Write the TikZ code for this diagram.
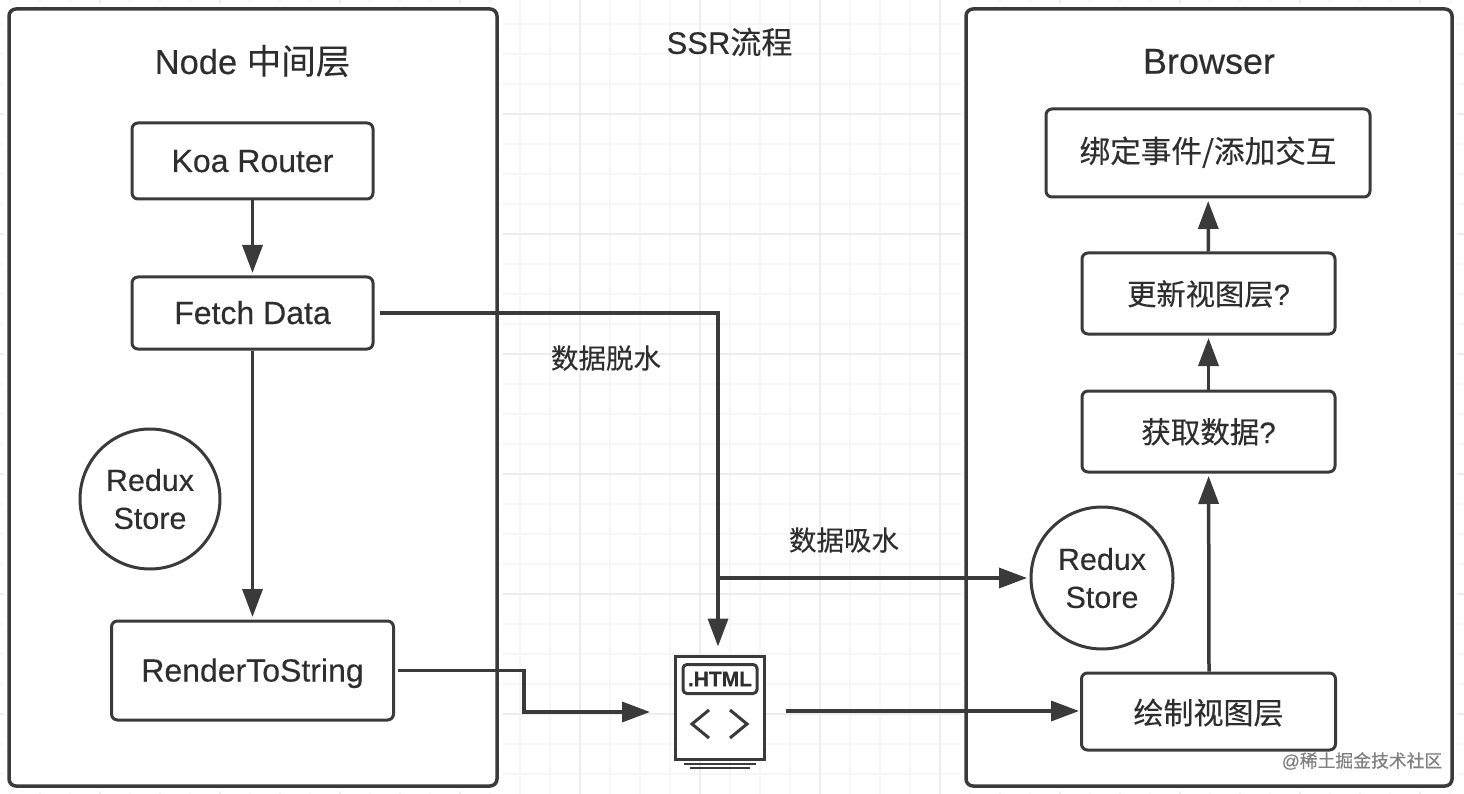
\documentclass[tikz,border=0pt]{standalone}
\usepackage{fontspec}
\usepackage{xcolor}
\usetikzlibrary{arrows.meta}
\setmainfont{Liberation Sans}[FakeBold=0.25]
\newfontfamily\cjk{Noto Sans CJK SC}[FakeBold=0.25]
\definecolor{inkgray}{HTML}{3A3A3A}
\definecolor{textgray}{HTML}{2E2E2E}
\tikzset{
    panelbox/.style={draw=inkgray, line width=3.5pt, rounded corners=7pt, fill=white, preaction={draw=white, line width=11pt}, minimum width=488pt, minimum height=777pt},
    flowbox/.style={draw=inkgray, line width=3pt, rounded corners=6pt, fill=white, text=textgray, inner sep=0pt, text height=22pt, text depth=0pt, font=\fontsize{32}{38}\selectfont},
    cjkbox/.style={flowbox, text height=23pt, text depth=0pt},
    storenode/.style={draw=inkgray, line width=3pt, circle, fill=white, text=textgray, align=center, inner sep=0pt, minimum size=140pt, font=\fontsize{30.5}{38}\selectfont},
    titlenode/.style={text=textgray, inner sep=0pt, font=\fontsize{34.5}{40}\selectfont},
    flowlabel/.style={text=textgray, inner sep=0pt, font=\fontsize{27.5}{32}\selectfont},
    flowline/.style={draw=inkgray, line width=3.5pt, -{Triangle[length=28pt, width=20pt]}, shorten >=2.5pt},
    iconline/.style={draw=inkgray, line width=3pt}
}
\begin{document}
\begin{tikzpicture}[x=1pt, y=-1pt, node distance=152pt]
    \useasboundingbox (0,0) rectangle (1464,794);
    \fill[white] (0,0) rectangle (1464,794);

    % Background grid
    \foreach \gx in {10,40,...,1450}
        \draw[black!3.5, line width=1.5pt] (\gx,0) -- (\gx,794);
    \foreach \gy in {24,54,...,774}
        \draw[black!3.5, line width=1.5pt] (0,\gy) -- (1464,\gy);
    \foreach \gx in {100,220,...,1420}
        \draw[black!7, line width=2pt] (\gx,0) -- (\gx,794);
    \foreach \gy in {114,234,...,714}
        \draw[black!7, line width=2pt] (0,\gy) -- (1464,\gy);

    % Panels
    \node[panelbox] (nodepanel) at (253,397.5) {};
    \node[panelbox, minimum width=486pt] (browserpanel) at (1209,397.5) {};
    \node[titlenode] (pagetitle) at (729.5,42) {\fontsize{31}{38}\selectfont SSR{\cjk 流程}};

    % Node side (left)
    \node[flowbox, minimum width=241pt, minimum height=76pt] (koa) at (252.5,161) {Koa Router};
    \node[flowbox, below of=koa, minimum width=241pt, minimum height=72pt] (fetch) {Fetch Data};
    \node[flowbox, below of=fetch, node distance=357.5pt, minimum width=282pt, minimum height=99pt] (render) {RenderToString};
    \node[storenode] (storeleft) at (150,499) {Redux\\Store};
    \node[titlenode] (nodetitle) at (252.5,61) {Node {\cjk 中间层}};

    % Browser side (right)
    \node[cjkbox, text depth=4pt, minimum width=324pt, minimum height=88pt, font=\fontsize{30.6}{38}\cjk] (bind) at (1208,153) {绑定事件/添加交互};
    \node[cjkbox, minimum width=253pt, minimum height=81pt, font=\fontsize{29.3}{38}\selectfont] (update) at (1208.5,293.5) {{\cjk 更新视图层}?};
    \node[cjkbox, below of=update, node distance=138pt, minimum width=253pt, minimum height=81pt, font=\fontsize{29.5}{38}\selectfont] (getdata) {{\cjk 获取数据}?};
    \node[cjkbox, text height=25pt, below of=getdata, node distance=280pt, minimum width=254pt, minimum height=77pt, font=\fontsize{30}{38}\cjk] (paint) {绘制视图层};
    \node[storenode, minimum size=142pt] (storeright) at (1102,578) {Redux\\Store};
    \node[titlenode] (browsertitle) at (1209,61.5) {\fontsize{36}{40}\selectfont Browser};

    % HTML icon
    \node[draw=inkgray, line width=3pt, fill=white, minimum width=89pt, minimum height=103pt] (html) at (719.5,707.5) {};
    \node[draw=inkgray, line width=3pt, rounded corners=4pt, text=textgray, inner sep=0pt, minimum width=74pt, minimum height=29pt, font=\fontsize{21}{24}\selectfont\bfseries] (htmltag) at (720,679) {.HTML};
    \draw[iconline] (709,710) -- (692,724) -- (709,738);
    \draw[iconline] (730,710) -- (747,724) -- (730,738);
    \draw[iconline, line width=2pt] (684,764) -- (756,764);
    \draw[iconline, line width=2.5pt] (690,768) -- (750,768);

    % Free ends beside the icon
    \coordinate (htmltop) at ([xshift=-1.5pt, yshift=5.5pt]html.north);
    \coordinate (htmlin) at ([xshift=-21pt, yshift=-4.5pt]html.west);
    \coordinate (htmlout) at ([xshift=20pt, yshift=-3.5pt]html.east);
    \coordinate (hydrate) at (htmltop |- storeright.west);

    % Connections
    \draw[flowline] (koa) -- (fetch);
    \draw[flowline] (fetch) -- (render);
    \draw[flowline, shorten <=5pt] (fetch.east) -| (htmltop);
    \draw[flowline, shorten <=3pt] (render.east) -| (524,712) -- (htmlin);
    \draw[flowline] (hydrate) -- (storeright.west);
    \draw[flowline, shorten >=1pt] (htmlout) -- (htmlout -| paint.west);
    \draw[flowline] ([xshift=0.5pt]paint.north) -- (getdata);
    \draw[flowline] (getdata) -- (update);
    \draw[flowline] (update) -- (bind);

    % Labels
    \node[flowlabel] (dehydrate) at (606,358) {\cjk 数据脱水};
    \node[flowlabel] (hydratelabel) at (844,540) {\cjk 数据吸水};
    \node[text=black!50, inner sep=0pt, font=\fontsize{17.8}{20}\selectfont] (mark) at (1362,761) {@{\cjk 稀土掘金技术社区}};
\end{tikzpicture}
\end{document}
